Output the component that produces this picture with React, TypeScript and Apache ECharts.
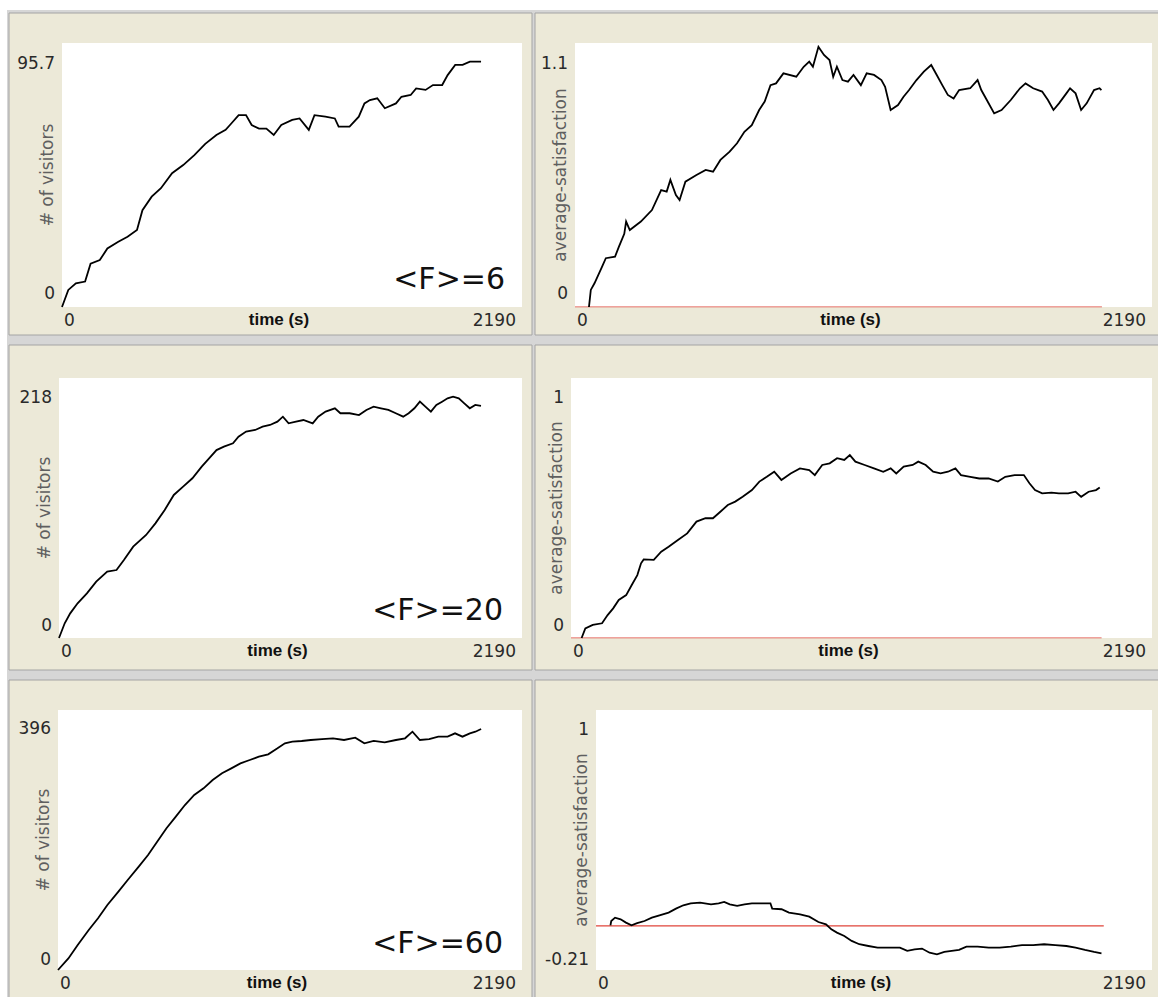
import React, { useEffect, useRef } from "react";
import * as echarts from "echarts";

// ---------- data ----------
const TIME_MIN = 0;
const TIME_MAX = 2190;
const xTickValues = [0, 2190];

// Row 1 : <F>=6
const timeVisF6 = [0, 30, 66, 110, 136, 180, 216, 268, 312, 357, 383, 427, 471, 524, 577, 630, 682, 735, 779, 806, 841, 876, 903, 938, 973, 1008, 1044, 1096, 1131, 1175, 1202, 1254, 1299, 1317, 1369, 1413, 1440, 1466, 1501, 1537, 1590, 1616, 1660, 1686, 1731, 1766, 1810, 1836, 1872, 1907, 1942, 1995];
const visitorsF6 = [0, 6.7, 9.3, 10, 17, 18.4, 23, 25.6, 27.6, 30.2, 38, 43.3, 46.6, 52.5, 55.7, 59.6, 64, 67.5, 69.5, 72, 75.3, 75.3, 71.4, 70, 70, 67.5, 71.4, 73.4, 74, 69.5, 75.3, 74.7, 74, 70.8, 70.8, 74.7, 79.9, 81.2, 81.9, 78, 79.9, 82.5, 83.2, 85.8, 85.2, 87.1, 87.1, 91, 95, 95, 96.3, 96.3];

const timeSatF6 = [53, 60, 74, 102, 117, 152, 166, 187, 194, 208, 250, 292, 327, 348, 362, 383, 397, 419, 461, 496, 524, 552, 587, 615, 643, 671, 699, 720, 742, 763, 791, 840, 868, 889, 903, 924, 945, 966, 980, 994, 1015, 1036, 1057, 1085, 1107, 1135, 1163, 1177, 1198, 1226, 1247, 1268, 1296, 1324, 1352, 1373, 1394, 1415, 1437, 1458, 1500, 1528, 1542, 1563, 1591, 1619, 1654, 1689, 1710, 1739, 1773, 1795, 1816, 1837, 1865, 1879, 1900, 1921, 1942, 1970, 1991, 1998];
const satisfactionF6 = [0, 0.077, 0.107, 0.18, 0.22, 0.227, 0.27, 0.33, 0.385, 0.347, 0.385, 0.437, 0.527, 0.52, 0.573, 0.505, 0.482, 0.565, 0.595, 0.618, 0.61, 0.663, 0.7, 0.738, 0.79, 0.82, 0.888, 0.926, 1.0, 1.008, 1.053, 1.038, 1.083, 1.106, 1.083, 1.173, 1.136, 1.113, 1.038, 1.083, 1.023, 1.016, 1.046, 1.0, 1.053, 1.046, 1.023, 0.993, 0.888, 0.91, 0.948, 0.978, 1.023, 1.061, 1.091, 1.046, 1.0, 0.956, 0.94, 0.978, 0.986, 1.023, 0.978, 0.933, 0.873, 0.888, 0.933, 0.986, 1.008, 0.986, 0.971, 0.933, 0.888, 0.918, 0.963, 0.986, 0.963, 0.888, 0.918, 0.978, 0.986, 0.978];

// Row 2 : <F>=20
const timeVisF20 = [0, 27, 53, 88, 132, 176, 228, 272, 307, 351, 412, 456, 500, 543, 587, 631, 675, 710, 745, 780, 823, 849, 885, 928, 963, 998, 1033, 1059, 1086, 1121, 1156, 1200, 1226, 1261, 1305, 1331, 1375, 1419, 1454, 1488, 1523, 1558, 1593, 1628, 1654, 1681, 1707, 1733, 1759, 1785, 1812, 1838, 1864, 1891, 1917, 1943, 1969, 1996];
const visitorsF20 = [0, 13.3, 22.3, 31.4, 40.4, 51, 60, 61.5, 70.6, 82.6, 93.2, 103.7, 115.8, 129.4, 136.9, 144.5, 155, 162.5, 170, 173.1, 176.1, 182.1, 186.7, 188.2, 191.2, 192.7, 195.7, 200.2, 194.2, 195.7, 197.2, 194.2, 200.2, 204.8, 207.8, 203.3, 203.3, 201.7, 206.3, 209.3, 207.8, 206.3, 203.3, 200.2, 203.3, 207.8, 213.8, 209.3, 204.8, 210.8, 213.8, 216.8, 218.3, 216.8, 212.3, 207.8, 210.8, 209.9];

const timeSatF20 = [40, 54, 82, 117, 138, 159, 180, 208, 229, 250, 264, 274, 312, 340, 368, 403, 438, 473, 507, 535, 563, 591, 619, 647, 682, 710, 738, 766, 793, 828, 863, 898, 919, 947, 975, 1003, 1030, 1051, 1072, 1107, 1142, 1177, 1205, 1226, 1254, 1288, 1309, 1337, 1365, 1393, 1421, 1449, 1470, 1505, 1539, 1574, 1609, 1637, 1672, 1707, 1728, 1749, 1776, 1811, 1839, 1874, 1902, 1923, 1951, 1979, 1993];
const satisfactionF20 = [0, 0.04, 0.054, 0.061, 0.095, 0.123, 0.158, 0.178, 0.22, 0.261, 0.31, 0.326, 0.324, 0.358, 0.379, 0.407, 0.434, 0.483, 0.497, 0.497, 0.524, 0.552, 0.566, 0.586, 0.614, 0.649, 0.669, 0.69, 0.656, 0.683, 0.704, 0.697, 0.676, 0.718, 0.725, 0.746, 0.739, 0.759, 0.732, 0.718, 0.704, 0.69, 0.704, 0.683, 0.711, 0.718, 0.732, 0.718, 0.69, 0.683, 0.69, 0.704, 0.676, 0.669, 0.662, 0.662, 0.649, 0.669, 0.676, 0.676, 0.642, 0.614, 0.6, 0.603, 0.6, 0.6, 0.607, 0.586, 0.607, 0.614, 0.625];

// Row 3 : <F>=60
const timeVisF60 = [0, 49, 93, 145, 189, 233, 285, 329, 381, 425, 468, 512, 556, 599, 643, 687, 730, 774, 818, 861, 905, 948, 992, 1036, 1071, 1106, 1150, 1193, 1246, 1298, 1350, 1403, 1446, 1490, 1542, 1595, 1638, 1673, 1708, 1752, 1795, 1839, 1874, 1909, 1944, 1970, 1997];
const visitorsF60 = [0, 19, 41, 65.5, 84.6, 106.4, 128.2, 147.3, 169.1, 188.2, 210, 231.9, 251, 270, 286.4, 297.3, 311, 321.9, 330, 338.2, 343.7, 349.1, 353, 362.8, 371, 373.7, 374.8, 376.4, 378, 379.2, 376.4, 380.2, 371, 374.8, 372.6, 376.4, 379.2, 390, 376.4, 378, 381.9, 381.9, 387.3, 381.9, 387.3, 390, 394.4];

const timeSatF60 = [57, 60, 75, 97, 118, 140, 162, 191, 220, 250, 286, 315, 344, 373, 410, 453, 483, 505, 527, 556, 585, 614, 650, 687, 694, 731, 760, 804, 840, 876, 906, 927, 949, 978, 1007, 1037, 1073, 1109, 1153, 1197, 1226, 1255, 1284, 1314, 1343, 1372, 1401, 1430, 1459, 1503, 1547, 1590, 1634, 1678, 1722, 1765, 1809, 1853, 1889, 1926, 1962, 1991];
const satisfactionF60 = [0.003, 0.025, 0.042, 0.034, 0.017, 0.003, 0.014, 0.025, 0.042, 0.054, 0.068, 0.088, 0.105, 0.115, 0.119, 0.11, 0.115, 0.122, 0.11, 0.102, 0.11, 0.115, 0.115, 0.115, 0.088, 0.085, 0.068, 0.059, 0.047, 0.02, 0.008, -0.017, -0.034, -0.051, -0.076, -0.093, -0.102, -0.11, -0.11, -0.11, -0.127, -0.119, -0.115, -0.136, -0.144, -0.132, -0.127, -0.122, -0.105, -0.105, -0.11, -0.11, -0.105, -0.098, -0.098, -0.093, -0.098, -0.102, -0.11, -0.122, -0.132, -0.139];

// zero reference line in the satisfaction plots
const zeroLineTime = [0, 2000];
const zeroLineValue = [0, 0];

// y axis tick labels (min / max) and full axis extents of each plot
const yTickMin = [0, 0, 0, 0, 0, -0.21];
const yTickMax = [95.7, 1.1, 218, 1, 396, 1];
const yAxisMin = [0, 0, 0, 0, 0, -0.224];
const yAxisMax = [103.6, 1.19, 235.2, 1.079, 425.5, 1.098];
const yAxisNames = ["# of visitors", "average-satisfaction", "# of visitors", "average-satisfaction", "# of visitors", "average-satisfaction"];
const xAxisName = "time (s)";
const fLabels = ["<F>=6", "<F>=20", "<F>=60"];

const seriesTimes = [timeVisF6, timeSatF6, timeVisF20, timeSatF20, timeVisF60, timeSatF60];
const seriesValues = [visitorsF6, satisfactionF6, visitorsF20, satisfactionF20, visitorsF60, satisfactionF60];

// ---------- layout ----------
const GRIDS = [
  { left: 62, top: 43, width: 460, height: 264 },
  { left: 575, top: 43, width: 577, height: 264 },
  { left: 59, top: 378, width: 463, height: 260 },
  { left: 571, top: 378, width: 581, height: 260 },
  { left: 58, top: 710, width: 464, height: 260 },
  { left: 596, top: 710, width: 556, height: 260 },
];
const MIN_LABEL_PAD = [28, 28, 26, 26, 22, 16];
const F_LABEL_POS = [
  { x: 505, y: 278 },
  { x: 503, y: 609 },
  { x: 503, y: 942 },
];

const TICK_FONT = "'DejaVu Sans', sans-serif";
const BEIGE = "#ECE9D8";

export default function App() {
  const ref = useRef<HTMLDivElement>(null);

  useEffect(() => {
    if (!ref.current) return;
    const chart = echarts.init(ref.current, undefined, { renderer: "svg" });

    const grid = GRIDS.map((g) => ({
      ...g,
      show: true,
      backgroundColor: "#ffffff",
      borderWidth: 0,
    }));

    const xAxis = GRIDS.map((_, i) => ({
      type: "value",
      gridIndex: i,
      min: TIME_MIN,
      max: TIME_MAX,
      name: xAxisName,
      nameLocation: "middle",
      nameGap: 4,
      nameMoveOverlap: false,
      nameTextStyle: {
        fontFamily: "'Liberation Sans', Arial, sans-serif",
        fontWeight: "bold",
        fontSize: 17,
        color: "#111",
        verticalAlign: "top",
        padding: [0, 26, 0, 0],
      },
      axisLine: { show: false },
      axisTick: { show: false },
      splitLine: { show: false },
      axisLabel: {
        customValues: xTickValues,
        margin: 4,
        fontFamily: TICK_FONT,
        fontSize: 17,
        color: "#2a2a2a",
        alignMinLabel: "left",
        alignMaxLabel: "right",
        formatter: (v: number) => (v === TIME_MIN ? `{a|${v}}` : `{b|${v}}`),
        rich: {
          a: { fontFamily: TICK_FONT, fontSize: 17, color: "#2a2a2a", padding: [0, 0, 0, 2] },
          b: { fontFamily: TICK_FONT, fontSize: 17, color: "#2a2a2a", padding: [0, 6, 0, 0] },
        },
      },
    }));

    const yAxis = GRIDS.map((_, i) => ({
      type: "value",
      gridIndex: i,
      min: yAxisMin[i],
      max: yAxisMax[i],
      name: yAxisNames[i],
      nameLocation: "middle",
      nameGap: 7,
      nameMoveOverlap: false,
      nameTextStyle: {
        fontFamily: TICK_FONT,
        fontSize: 17,
        color: "#5f5f5f",
      },
      axisLine: { show: false },
      axisTick: { show: false },
      splitLine: { show: false },
      axisLabel: {
        customValues: [yTickMin[i], yTickMax[i]],
        margin: 7,
        fontFamily: TICK_FONT,
        fontSize: 17,
        color: "#2a2a2a",
        formatter: (v: number) =>
          Math.abs(v - yTickMin[i]) < 1e-9 ? `{lo|${v}}` : `{hi|${v}}`,
        rich: {
          lo: { fontFamily: TICK_FONT, fontSize: 17, color: "#2a2a2a", padding: [0, 0, MIN_LABEL_PAD[i], 0] },
          hi: { fontFamily: TICK_FONT, fontSize: 17, color: "#2a2a2a" },
        },
      },
    }));

    const series: any[] = [];
    [1, 3, 5].forEach((gi) => {
      series.push({
        type: "line",
        xAxisIndex: gi,
        yAxisIndex: gi,
        data: zeroLineTime.map((t, k) => [t, zeroLineValue[k]]),
        showSymbol: false,
        symbol: "none",
        silent: true,
        z: 2,
        lineStyle: { color: "#e0443a", width: 1.2 },
      });
    });
    seriesTimes.forEach((times, i) => {
      series.push({
        type: "line",
        xAxisIndex: i,
        yAxisIndex: i,
        data: times.map((t, k) => [t, seriesValues[i][k]]),
        showSymbol: false,
        symbol: "none",
        silent: true,
        z: 3,
        lineStyle: { color: "#000000", width: 1.8, join: "miter" },
      });
    });

    const rows = [
      { y: 13, h: 322 },
      { y: 345, h: 325 },
      { y: 680, h: 320 },
    ];
    const cols = [
      { x: 9, w: 523 },
      { x: 535, w: 626 },
    ];
    const panels: any[] = [];
    rows.forEach((r) =>
      cols.forEach((c) =>
        panels.push({
          type: "rect",
          shape: { x: c.x, y: r.y, width: c.w, height: r.h },
          style: { fill: BEIGE, stroke: "#a4a4a4", lineWidth: 1 },
          z: -9,
          silent: true,
        })
      )
    );

    const labels = fLabels.map((txt, i) => ({
      type: "text",
      x: F_LABEL_POS[i].x,
      y: F_LABEL_POS[i].y,
      z: 100,
      silent: true,
      style: {
        text: txt,
        fontFamily: TICK_FONT,
        fontSize: 30,
        fill: "#111",
        align: "right",
        verticalAlign: "middle",
      },
    }));

    chart.setOption({
      animation: false,
      grid,
      xAxis,
      yAxis,
      series,
      graphic: {
        elements: [
          {
            type: "rect",
            shape: { x: 7, y: 10, width: 1160, height: 1000 },
            style: { fill: "#d6d6d6" },
            z: -10,
            silent: true,
          },
          ...panels,
          ...labels,
        ],
      },
    });

    return () => chart.dispose();
  }, []);

  return (
    <div
      ref={ref}
      style={{ position: "absolute", left: 0, top: 0, width: 1158, height: 997 }}
    />
  );
}
